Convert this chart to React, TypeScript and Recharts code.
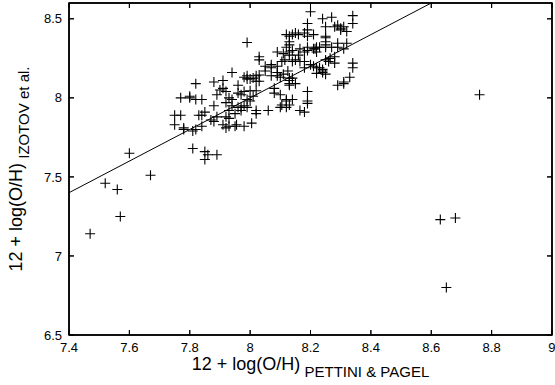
import React from 'react';
import { ScatterChart, Scatter, XAxis, YAxis, Label } from 'recharts';

// 12 + log(O/H) from Pettini & Pagel (x) and from Izotov et al. (y)
const pettini = [
  7.47, 7.52, 7.56, 7.57, 7.60, 7.67, 7.81, 7.85, 7.86, 7.89, 7.85, 8.63, 8.68, 8.76, 8.65,
  7.75, 7.75, 7.77, 7.77, 7.80, 7.80, 7.82, 7.84, 7.82, 7.83, 7.85, 7.78, 7.81, 7.84, 7.82, 7.78, 7.84,
  7.88, 7.91, 7.91, 7.90, 7.92, 7.94, 7.98, 7.99, 7.88, 7.89, 7.96, 7.97, 7.98, 7.92, 7.93, 7.94, 7.96, 7.97,
  7.98, 7.89, 7.87, 7.88, 7.92, 7.93, 7.95, 7.97, 7.99, 7.91, 7.92, 7.93, 7.95, 7.98, 7.99, 7.96, 7.94, 7.955,
  8.005, 8.02, 7.93,
  8.03, 8.03, 8.05, 8.07, 8.09, 8.05, 8.07, 8.09, 8.09, 8.11, 8.125, 8.13, 8.14, 8.15, 8.13, 7.99, 8.01, 8.02,
  8.03, 8.02, 8.03, 8.00, 8.02, 8.01, 7.99, 8.00, 8.08, 8.10, 8.12, 8.105, 8.12, 8.13, 8.14, 8.02, 8.06, 8.10,
  8.12, 8.08, 8.07, 8.10, 8.13, 8.13, 8.00,
  8.19, 8.165, 8.18, 8.19, 8.19, 8.22, 8.24, 8.18, 8.21, 8.23, 8.24, 8.25, 8.29, 8.31, 8.31, 8.34, 8.34, 8.33,
  8.105, 8.115, 8.14, 8.15, 8.165, 8.18, 8.20, 8.22, 8.24, 8.26, 8.28, 8.25, 8.265, 8.28,
  8.09, 8.11, 8.13, 8.16, 8.18, 8.19, 8.21, 8.22, 8.25, 8.29, 8.32, 8.29, 8.31, 8.27,
  8.13, 8.13, 8.12, 8.13, 8.14, 8.165, 8.19, 8.215, 8.23, 8.22,
  8.12, 8.14, 8.15, 8.16, 8.19, 8.21, 8.25, 8.25, 8.25, 8.25, 8.13, 8.18,
  8.20, 8.19, 8.19, 8.24, 8.27, 8.34, 8.34, 8.29, 8.30, 8.32, 8.25, 8.28, 8.31, 8.30,
];
const izotov = [
  7.14, 7.46, 7.42, 7.25, 7.65, 7.51, 7.68, 7.66, 7.64, 7.64, 7.61, 7.23, 7.24, 8.02, 6.80,
  7.83, 7.89, 7.89, 8.00, 8.00, 8.01, 7.99, 7.99, 8.09, 7.89, 7.91, 7.80, 7.79, 7.82, 7.80, 7.81, 7.89,
  8.10, 8.11, 8.06, 8.05, 8.04, 8.16, 8.13, 8.12, 7.95, 8.02, 8.03, 8.02, 8.04, 7.97, 8.00, 7.95, 7.94, 7.94,
  7.95, 7.88, 7.86, 7.85, 7.88, 7.87, 7.90, 7.92, 7.94, 7.83, 7.81, 7.82, 7.82, 7.82, 8.35, 8.08, 7.99, 7.83,
  7.84, 7.90, 7.92,
  8.24, 8.26, 8.20, 8.21, 8.20, 8.17, 8.19, 8.16, 8.14, 8.15, 8.17, 8.125, 8.125, 8.09, 8.09, 8.14, 8.125, 8.14,
  8.145, 8.105, 8.105, 8.045, 8.045, 8.01, 7.99, 7.98, 8.03, 8.02, 7.99, 7.955, 7.98, 7.955, 7.99, 7.92, 7.92, 7.94,
  7.94, 8.06, 8.14, 8.13, 8.11, 8.08, 8.12,
  7.965, 7.92, 7.91, 8.04, 7.98, 8.155, 8.18, 8.19, 8.20, 8.19, 8.16, 8.15, 8.08, 8.09, 8.10, 8.22, 8.19, 8.13,
  8.23, 8.24, 8.23, 8.24, 8.23, 8.23, 8.21, 8.19, 8.17, 8.23, 8.22, 8.24, 8.25, 8.26,
  8.29, 8.28, 8.27, 8.27, 8.29, 8.30, 8.31, 8.32, 8.32, 8.32, 8.345, 8.345, 8.31, 8.32,
  8.355, 8.335, 8.32, 8.29, 8.30, 8.31, 8.32, 8.31, 8.32, 8.29,
  8.40, 8.40, 8.41, 8.40, 8.39, 8.40, 8.38, 8.39, 8.355, 8.335, 8.39, 8.41,
  8.545, 8.47, 8.43, 8.50, 8.51, 8.52, 8.47, 8.46, 8.43, 8.42, 8.45, 8.45, 8.45, 8.44,
];

const xTicks = [7.4, 7.6, 7.8, 8, 8.2, 8.4, 8.6, 8.8, 9];
const yTicks = [6.5, 7, 7.5, 8, 8.5];
const xDomain = [7.4, 9];
const yDomain = [6.5, 8.6];
// one-to-one line
const lineX = [7.4, 8.6];
const lineY = [7.4, 8.6];

const points = pettini.map((x, i) => ({ x, y: izotov[i] }));
const lineData = lineX.map((x, i) => ({ x, y: lineY[i] }));

const FONT = '"Liberation Sans", Arial, Helvetica, sans-serif';

// plot box (chart margins + axis sizes)
const W = 555;
const H = 385;
const MARGIN = { top: 1, right: 1, bottom: 0, left: 0 };
const Y_AXIS_W = 69;
const X_AXIS_H = 50;
const EDGE = 2;
const PLOT = {
  left: MARGIN.left + Y_AXIS_W,
  right: W - MARGIN.right - EDGE,
  top: MARGIN.top + EDGE,
  bottom: H - MARGIN.bottom - X_AXIS_H,
};
const TICK = 5;

const Cross = (p: any) => {
  const { cx, cy } = p;
  if (cx == null || cy == null) return <g />;
  return (
    <path
      d={`M${cx - 5},${cy}H${cx + 5}M${cx},${cy - 5}V${cy + 5}`}
      stroke="#000"
      strokeWidth={1.1}
      fill="none"
    />
  );
};
const NoDot = () => <g />;

const XLabel = (props: any) => {
  const vb = props.viewBox || { x: 69, y: 335, width: 483, height: 50 };
  return (
    <text x={vb.x + vb.width / 2} y={vb.y + 35} textAnchor="middle" fontFamily={FONT} fill="#000">
      <tspan fontSize={18}>12 + log(O/H)</tspan>
      <tspan fontSize={15} dy={7}>{'\u00a0PETTINI & PAGEL'}</tspan>
    </text>
  );
};

const YLabel = (props: any) => {
  const vb = props.viewBox || { x: 0, y: 3, width: 69, height: 332 };
  const cx = vb.x + 22;
  const cy = vb.y + vb.height / 2;
  return (
    <text x={cx} y={cy} textAnchor="middle" fontFamily={FONT} fill="#000" transform={`rotate(-90, ${cx}, ${cy})`}>
      <tspan fontSize={18}>12 + log(O/H)</tspan>
      <tspan fontSize={15} dy={7}>{'\u00a0IZOTOV et al.'}</tspan>
    </text>
  );
};

const blank = () => '';
const frame = { stroke: '#000', strokeWidth: 1.5 };
const tickMark = { stroke: '#000', strokeWidth: 1 };

const css = `
.recharts-cartesian-axis-tick-value { fill: #000; font-size: 13px; font-family: ${FONT}; }
`;

const sx = (v: number) =>
  PLOT.left + ((v - xDomain[0]) / (xDomain[1] - xDomain[0])) * (PLOT.right - PLOT.left);
const sy = (v: number) =>
  PLOT.bottom - ((v - yDomain[0]) / (yDomain[1] - yDomain[0])) * (PLOT.bottom - PLOT.top);

// Box frame with inward ticks on all four sides, placed from the tick arrays
const Frame = () => {
  let d = '';
  xTicks.forEach((t) => {
    const x = sx(t);
    d += `M${x},${PLOT.bottom}V${PLOT.bottom - TICK}M${x},${PLOT.top}V${PLOT.top + TICK}`;
  });
  yTicks.forEach((t) => {
    const y = sy(t);
    d += `M${PLOT.left},${y}H${PLOT.left + TICK}M${PLOT.right},${y}H${PLOT.right - TICK}`;
  });
  return (
    <svg
      width={W}
      height={H}
      style={{ position: 'absolute', left: 0, top: 0, pointerEvents: 'none' }}
    >
      <rect
        x={PLOT.left}
        y={PLOT.top}
        width={PLOT.right - PLOT.left}
        height={PLOT.bottom - PLOT.top}
        fill="none"
        stroke="#000"
        strokeWidth={1.5}
      />
      <path d={d} stroke="#000" strokeWidth={1} fill="none" />
    </svg>
  );
};

export default function App() {
  return (
    <div
      style={{
        position: 'absolute',
        left: 0,
        top: 0,
        width: W,
        height: H,
        background: '#fff',
        fontFamily: FONT,
        fontSize: 13,
      }}
    >
      <style>{css}</style>
      <ScatterChart width={W} height={H} margin={MARGIN}>
        <XAxis
          xAxisId="b"
          type="number"
          dataKey="x"
          domain={xDomain}
          ticks={xTicks}
          orientation="bottom"
          height={X_AXIS_H}
          tickSize={-TICK}
          tickMargin={13}
          axisLine={frame}
          tickLine={tickMark}
        >
          <Label content={<XLabel />} />
        </XAxis>
        <XAxis
          xAxisId="t"
          type="number"
          dataKey="x"
          domain={xDomain}
          ticks={xTicks}
          orientation="top"
          height={EDGE}
          tickSize={-TICK}
          tickMargin={0}
          tickFormatter={blank}
          axisLine={frame}
          tickLine={tickMark}
        />
        <YAxis
          yAxisId="l"
          type="number"
          dataKey="y"
          domain={yDomain}
          ticks={yTicks}
          orientation="left"
          width={Y_AXIS_W}
          tickSize={-TICK}
          tickMargin={12}
          axisLine={frame}
          tickLine={tickMark}
        >
          <Label content={<YLabel />} />
        </YAxis>
        <YAxis
          yAxisId="r"
          type="number"
          dataKey="y"
          domain={yDomain}
          ticks={yTicks}
          orientation="right"
          width={EDGE}
          tickSize={-TICK}
          tickMargin={0}
          tickFormatter={blank}
          axisLine={frame}
          tickLine={tickMark}
        />
        <Scatter
          xAxisId="t"
          yAxisId="r"
          data={lineData}
          line={{ stroke: '#000', strokeWidth: 1 }}
          shape={<NoDot />}
          isAnimationActive={false}
        />
        <Scatter
          xAxisId="b"
          yAxisId="l"
          data={points}
          shape={<Cross />}
          isAnimationActive={false}
        />
      </ScatterChart>
      <Frame />
    </div>
  );
}
